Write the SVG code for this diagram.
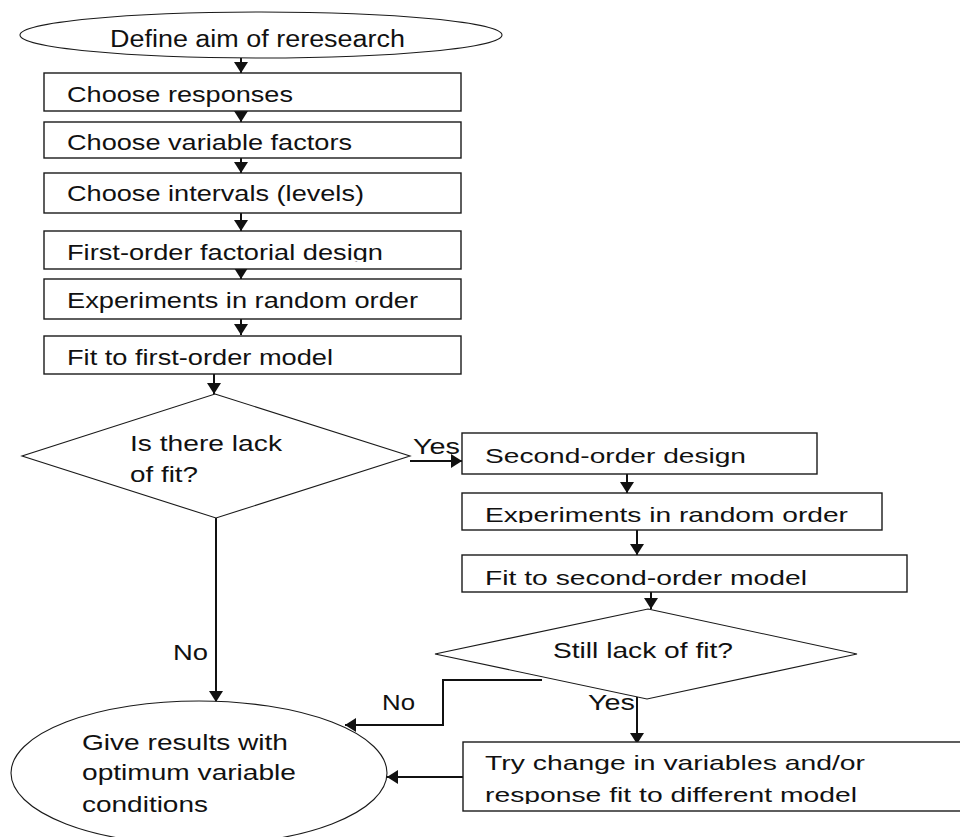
<svg xmlns="http://www.w3.org/2000/svg" width="960" height="837" viewBox="0 0 960 837">
<style>
  .box { fill: #fff; stroke: #1a1a1a; stroke-width: 1.4; }
  .dia { fill: #fff; stroke: #1a1a1a; stroke-width: 1.1; }
  .t { font-family: "Liberation Sans", Arial, sans-serif; font-size: 22px; fill: #111; }
  .t21 { font-family: "Liberation Sans", Arial, sans-serif; font-size: 21px; fill: #111; }
  .c { fill: none; stroke: #111; stroke-width: 2; }
</style>
<defs>
  <marker id="ah" markerUnits="userSpaceOnUse" markerWidth="12" markerHeight="14" refX="11" refY="7" orient="auto">
    <path d="M0,0 L11,7 L0,14 Z" fill="#111"/>
  </marker>
  <clipPath id="clipB4"><rect x="44" y="231" width="417" height="31"/></clipPath>
  <clipPath id="clipR2"><rect x="462" y="493" width="420" height="30"/></clipPath>
  <clipPath id="clipR7"><rect x="463" y="742" width="497" height="62"/></clipPath>
</defs>
<rect width="960" height="837" fill="#fff"/>

<g id="connectors">
  <line class="c" x1="241" y1="58" x2="241" y2="73" marker-end="url(#ah)"/>
  <line class="c" x1="241" y1="111" x2="241" y2="122" marker-end="url(#ah)"/>
  <line class="c" x1="241" y1="158" x2="241" y2="173" marker-end="url(#ah)"/>
  <line class="c" x1="241" y1="213" x2="241" y2="231" marker-end="url(#ah)"/>
  <line class="c" x1="241" y1="269" x2="241" y2="279" marker-end="url(#ah)"/>
  <line class="c" x1="241" y1="319" x2="241" y2="335" marker-end="url(#ah)"/>
  <line class="c" x1="214" y1="374" x2="214" y2="394" marker-end="url(#ah)"/>
  <line class="c" x1="410" y1="461" x2="462" y2="461" marker-end="url(#ah)"/>
  <line class="c" x1="627" y1="474" x2="627" y2="493" marker-end="url(#ah)"/>
  <line class="c" x1="637" y1="530" x2="637" y2="555" marker-end="url(#ah)"/>
  <line class="c" x1="651" y1="592" x2="651" y2="609" marker-end="url(#ah)"/>
  <line class="c" x1="216" y1="518" x2="216" y2="702" marker-end="url(#ah)"/>
  <polyline class="c" points="542,680 443,680 443,725 345,725" marker-end="url(#ah)"/>
  <line class="c" x1="637" y1="697" x2="637" y2="744" marker-end="url(#ah)"/>
  <line class="c" x1="463" y1="777" x2="387" y2="777" marker-end="url(#ah)"/>
  <text class="t" x="413" y="454" textLength="47" lengthAdjust="spacingAndGlyphs">Yes</text>
  <text class="t" x="173" y="660" textLength="35" lengthAdjust="spacingAndGlyphs">No</text>
  <text class="t" x="382" y="710" textLength="33" lengthAdjust="spacingAndGlyphs">No</text>
  <text class="t" x="588" y="710" textLength="47" lengthAdjust="spacingAndGlyphs">Yes</text>
</g>

<g id="start">
  <ellipse class="dia" cx="261" cy="35" rx="241" ry="23"/>
  <text class="t" x="110" y="47" style="font-size:23px" textLength="295" lengthAdjust="spacingAndGlyphs">Define aim of reresearch</text>
</g>
<g id="b1">
  <rect class="box" x="44" y="73" width="417" height="38"/>
  <text class="t" x="67" y="102" textLength="226" lengthAdjust="spacingAndGlyphs">Choose responses</text>
</g>
<g id="b2">
  <rect class="box" x="44" y="122" width="417" height="36"/>
  <text class="t" x="67" y="150" textLength="285" lengthAdjust="spacingAndGlyphs">Choose variable factors</text>
</g>
<g id="b3">
  <rect class="box" x="44" y="173" width="417" height="40"/>
  <text class="t" x="67" y="201" textLength="297" lengthAdjust="spacingAndGlyphs">Choose intervals (levels)</text>
</g>
<g id="b4">
  <rect class="box" x="44" y="231" width="417" height="38"/>
  <text class="t" x="67" y="260" clip-path="url(#clipB4)" textLength="316" lengthAdjust="spacingAndGlyphs">First-order factorial design</text>
</g>
<g id="b5">
  <rect class="box" x="44" y="279" width="417" height="40"/>
  <text class="t" x="67" y="308" textLength="351" lengthAdjust="spacingAndGlyphs">Experiments in random order</text>
</g>
<g id="b6">
  <rect class="box" x="44" y="336" width="417" height="38"/>
  <text class="t" x="67" y="365" textLength="266" lengthAdjust="spacingAndGlyphs">Fit to first-order model</text>
</g>
<g id="d1">
  <polygon class="dia" points="215,394 410,456 216,518 22,456"/>
  <text class="t" x="130" y="451" textLength="152" lengthAdjust="spacingAndGlyphs">Is there lack</text>
  <text class="t" x="130" y="482" textLength="68" lengthAdjust="spacingAndGlyphs">of fit?</text>
</g>
<g id="r1">
  <rect class="box" x="462" y="433" width="355" height="41"/>
  <text class="t21" x="485" y="463" textLength="261" lengthAdjust="spacingAndGlyphs">Second-order design</text>
</g>
<g id="r2">
  <rect class="box" x="462" y="493" width="420" height="37"/>
  <text class="t21" x="485" y="522" clip-path="url(#clipR2)" textLength="363" lengthAdjust="spacingAndGlyphs">Experiments in random order</text>
</g>
<g id="r3">
  <rect class="box" x="462" y="555" width="445" height="37"/>
  <text class="t21" x="485" y="585" textLength="322" lengthAdjust="spacingAndGlyphs">Fit to second-order model</text>
</g>
<g id="d2">
  <polygon class="dia" points="648,609 857,654 647,699 435,654"/>
  <text class="t" x="553" y="658" textLength="180" lengthAdjust="spacingAndGlyphs">Still lack of fit?</text>
</g>
<g id="end">
  <ellipse class="dia" cx="199" cy="773" rx="188" ry="72"/>
  <text class="t" x="82" y="750" textLength="206" lengthAdjust="spacingAndGlyphs">Give results with</text>
  <text class="t" x="82" y="780" textLength="214" lengthAdjust="spacingAndGlyphs">optimum variable</text>
  <text class="t" x="82" y="812" textLength="126" lengthAdjust="spacingAndGlyphs">conditions</text>
</g>
<g id="r4">
  <rect class="box" x="463" y="742" width="520" height="69"/>
  <text class="t21" x="485" y="770" textLength="380" lengthAdjust="spacingAndGlyphs">Try change in variables and/or</text>
  <text class="t21" x="485" y="802" clip-path="url(#clipR7)" textLength="372" lengthAdjust="spacingAndGlyphs">response fit to different model</text>
</g>
</svg>
